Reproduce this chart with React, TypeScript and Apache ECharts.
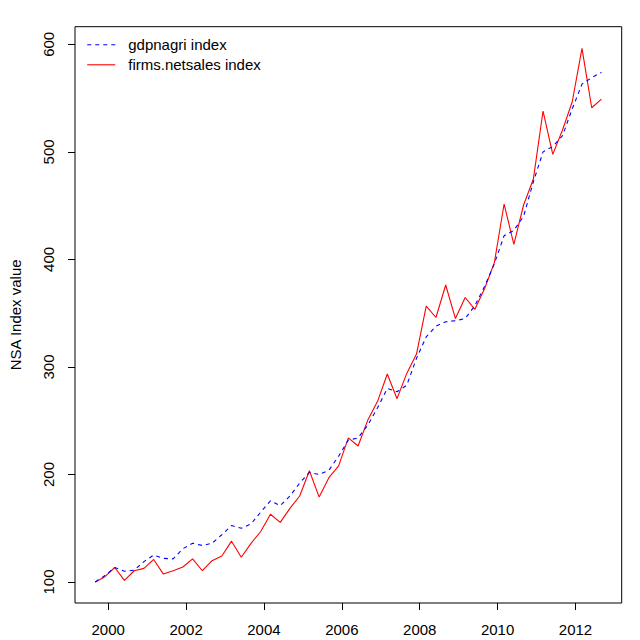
import React, { useEffect, useRef } from "react";
import * as echarts from "echarts";

// Quarterly observations, first one at 1999 + 8/12 (decimal year)
const startYear = 1999.667;
const seriesNames = ["gdpnagri index", "firms.netsales index"];

const gdpnagri = [
  100, 106, 113.5, 110, 111, 119, 125, 122, 121.5, 131,
  136, 134, 136, 144, 152.5, 150, 154, 165, 175.5, 171,
  180, 192, 202, 200, 204, 217, 232, 234, 246, 262,
  280, 277, 283, 308, 328, 338, 342, 343, 345, 357,
  375, 396, 422, 427, 440, 472, 500, 505, 515, 540,
  563, 569, 574,
];

const netsales = [
  100, 105, 113.5, 101.5, 110.5, 112.7, 121, 107.4, 110.5, 114,
  121.5, 110.5, 119.8, 124.2, 138, 123, 136, 147, 163, 155.5,
  168.5, 180, 203.5, 179, 197, 208, 234, 226.5, 250.6, 268,
  293.4, 270.5, 294, 312, 356.6, 346, 376.2, 345, 364.6, 353.6,
  373, 397, 451.5, 414, 450.6, 474.5, 538, 497.7, 520.3, 546.6,
  596.3, 541, 549,
];

const xTicks = [2000, 2002, 2004, 2006, 2008, 2010, 2012];
const yTicks = [100, 200, 300, 400, 500, 600];
const yAxisTitle = "NSA Index value";

const FONT = "'Liberation Sans', Arial, Helvetica, sans-serif";

export default function App() {
  const ref = useRef<HTMLDivElement>(null);

  useEffect(() => {
    if (!ref.current) return;
    const chart = echarts.init(ref.current, undefined, { renderer: "svg" });
    const times = gdpnagri.map((_, i) => startYear + i / 4);
    const blueData = gdpnagri.map((v, i) => [times[i], v]);
    const redData = netsales.map((v, i) => [times[i], v]);

    chart.setOption({
      animation: false,
      backgroundColor: "#ffffff",
      textStyle: { fontFamily: FONT, color: "#000" },
      grid: {
        left: 73,
        right: 18.3,
        top: 26.7,
        bottom: 37,
        show: true,
        borderColor: "#000",
        borderWidth: 1,
        backgroundColor: "transparent",
      },
      legend: {
        orient: "vertical",
        left: 86.7,
        top: 37.3,
        padding: 0,
        itemWidth: 28,
        itemHeight: 14,
        itemGap: 5,
        selectedMode: false,
        itemStyle: { opacity: 0 },
        lineStyle: { width: 1.1 },
        formatter: (name: string) => `{t|${name}}`,
        textStyle: {
          fontFamily: FONT,
          fontSize: 15,
          color: "#000",
          rich: {
            t: {
              fontFamily: FONT,
              fontSize: 15,
              color: "#000",
              padding: [0, 0, 0, 8],
            },
          },
        },
        data: seriesNames,
      },
      xAxis: {
        type: "value",
        min: 1999.147,
        max: 2013.187,
        splitLine: { show: false },
        axisLine: { show: false },
        axisTick: {
          show: true,
          length: 7,
          customValues: xTicks,
          lineStyle: { color: "#000", width: 1 },
        },
        axisLabel: {
          customValues: xTicks,
          margin: 19,
          fontSize: 15,
          fontFamily: FONT,
          color: "#000",
          formatter: (v: number) => String(v),
        },
      },
      yAxis: {
        type: "value",
        min: 80.5,
        max: 616.4,
        splitLine: { show: false },
        axisLine: { show: false },
        axisTick: {
          show: true,
          length: 7,
          customValues: yTicks,
          lineStyle: { color: "#000", width: 1 },
        },
        axisLabel: {
          customValues: yTicks,
          rotate: 90,
          margin: 19,
          fontSize: 15,
          fontFamily: FONT,
          color: "#000",
          formatter: (v: number) => String(v),
        },
        name: yAxisTitle,
        nameLocation: "middle",
        nameGap: 52,
        nameTextStyle: { fontSize: 15, fontFamily: FONT, color: "#000" },
      },
      series: [
        {
          name: seriesNames[0],
          type: "line",
          data: blueData,
          showSymbol: false,
          symbol: "none",
          lineStyle: { color: "#0000ff", width: 1.1, type: [4, 4] },
          itemStyle: { color: "#0000ff" },
          z: 3,
        },
        {
          name: seriesNames[1],
          type: "line",
          data: redData,
          showSymbol: false,
          symbol: "none",
          lineStyle: { color: "#ff0000", width: 1.1 },
          itemStyle: { color: "#ff0000" },
          z: 2,
        },
      ],
    });

    return () => chart.dispose();
  }, []);

  return (
    <div
      ref={ref}
      style={{ position: "absolute", left: 0, top: 0, width: 640, height: 640, background: "#fff" }}
    />
  );
}
